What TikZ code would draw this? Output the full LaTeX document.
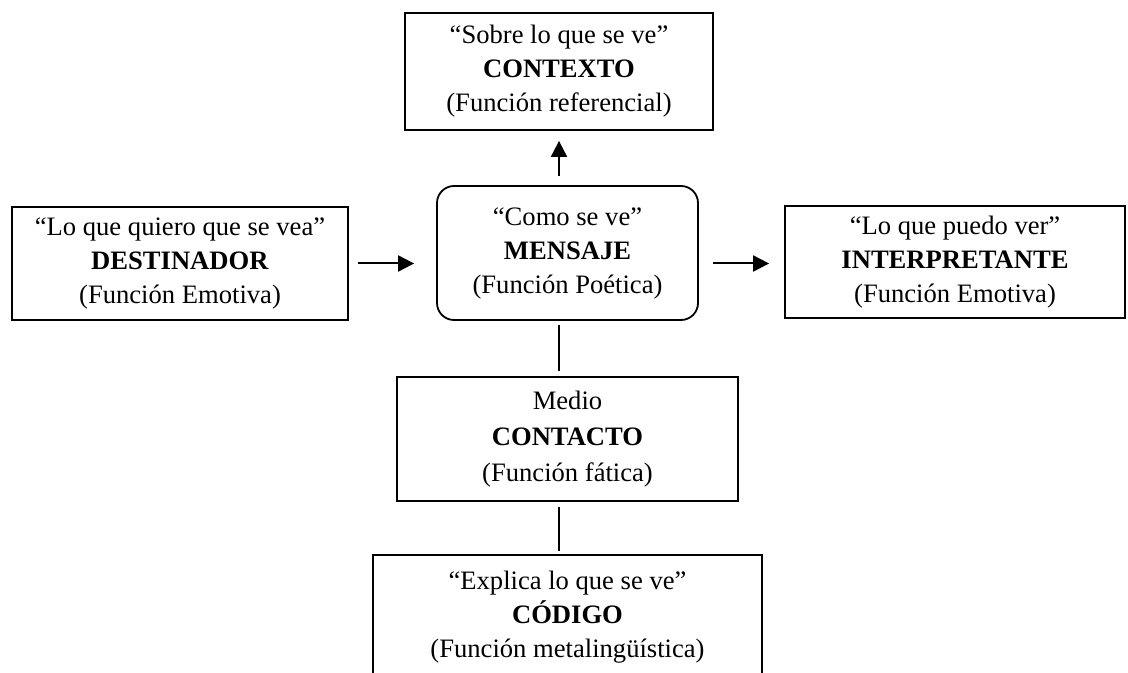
\documentclass[tikz,border=0pt]{standalone}
\usepackage{fontspec}
\setmainfont{Liberation Serif}
\usetikzlibrary{arrows.meta,positioning,calc}

\begin{document}
\begin{tikzpicture}[x=0.5pt, y=-0.5pt,
    every node/.style={font=\fontsize{13.3}{17}\selectfont, align=center, inner sep=0pt},
    caja/.style={draw, line width=0.9pt},
    cajar/.style={caja, rounded corners=8.5pt},
    flecha/.style={line width=1pt, -{Triangle[length=8pt,width=8pt]}},
    enlace/.style={line width=1pt}]
  \useasboundingbox (0,0) rectangle (1128,673);
  \clip (0,0) rectangle (1128,673);
  % cajas
  \node[caja, minimum width=154pt, minimum height=58.5pt] (contexto) at (559,71.5)
    {“Sobre lo que se ve”\\\textbf{CONTEXTO}\\(Función referencial)};
  \node[caja, minimum width=168pt, minimum height=56.5pt] (destinador) at (180,263.5)
    {“Lo que quiero que se vea”\\\textbf{DESTINADOR}\\(Función Emotiva)};
  \node[cajar, minimum width=130.5pt, minimum height=67pt] (mensaje) at (567.5,253)
    {“Como se ve”\\\textbf{MENSAJE}\\(Función Poética)};
  \node[caja, minimum width=170pt, minimum height=56pt] (interpretante) at (955,262)
    {“Lo que puedo ver”\\\textbf{INTERPRETANTE}\\(Función Emotiva)};
  \node[caja, minimum width=170.5pt, minimum height=62pt] (contacto) at (567.5,439)
    {Medio\\[1pt]\textbf{CONTACTO}\\[1pt](Función fática)};
  \node[caja, minimum width=194.5pt, minimum height=62pt] (codigo) at (567.5,617)
    {“Explica lo que se ve”\\\textbf{CÓDIGO}\\(Función metalingüística)};
  % conectores
  \draw[flecha, shorten <=4.5pt, shorten >=5pt] (mensaje.north -| contexto.south) -- (contexto.south);
  \draw[flecha, shorten <=4.5pt, shorten >=11pt] (destinador.east) -- (destinador.east -| mensaje.west);
  \draw[flecha, shorten <=7pt, shorten >=7.5pt] (mensaje.east |- destinador.east) -- (interpretante.west |- destinador.east);
  \draw[enlace, shorten <=2pt, shorten >=2.5pt] (mensaje.south -| contexto.south) -- (contacto.north -| contexto.south);
  \draw[enlace, shorten <=2.5pt, shorten >=1.5pt] (contacto.south -| contexto.south) -- (codigo.north -| contexto.south);
\end{tikzpicture}
\end{document}
